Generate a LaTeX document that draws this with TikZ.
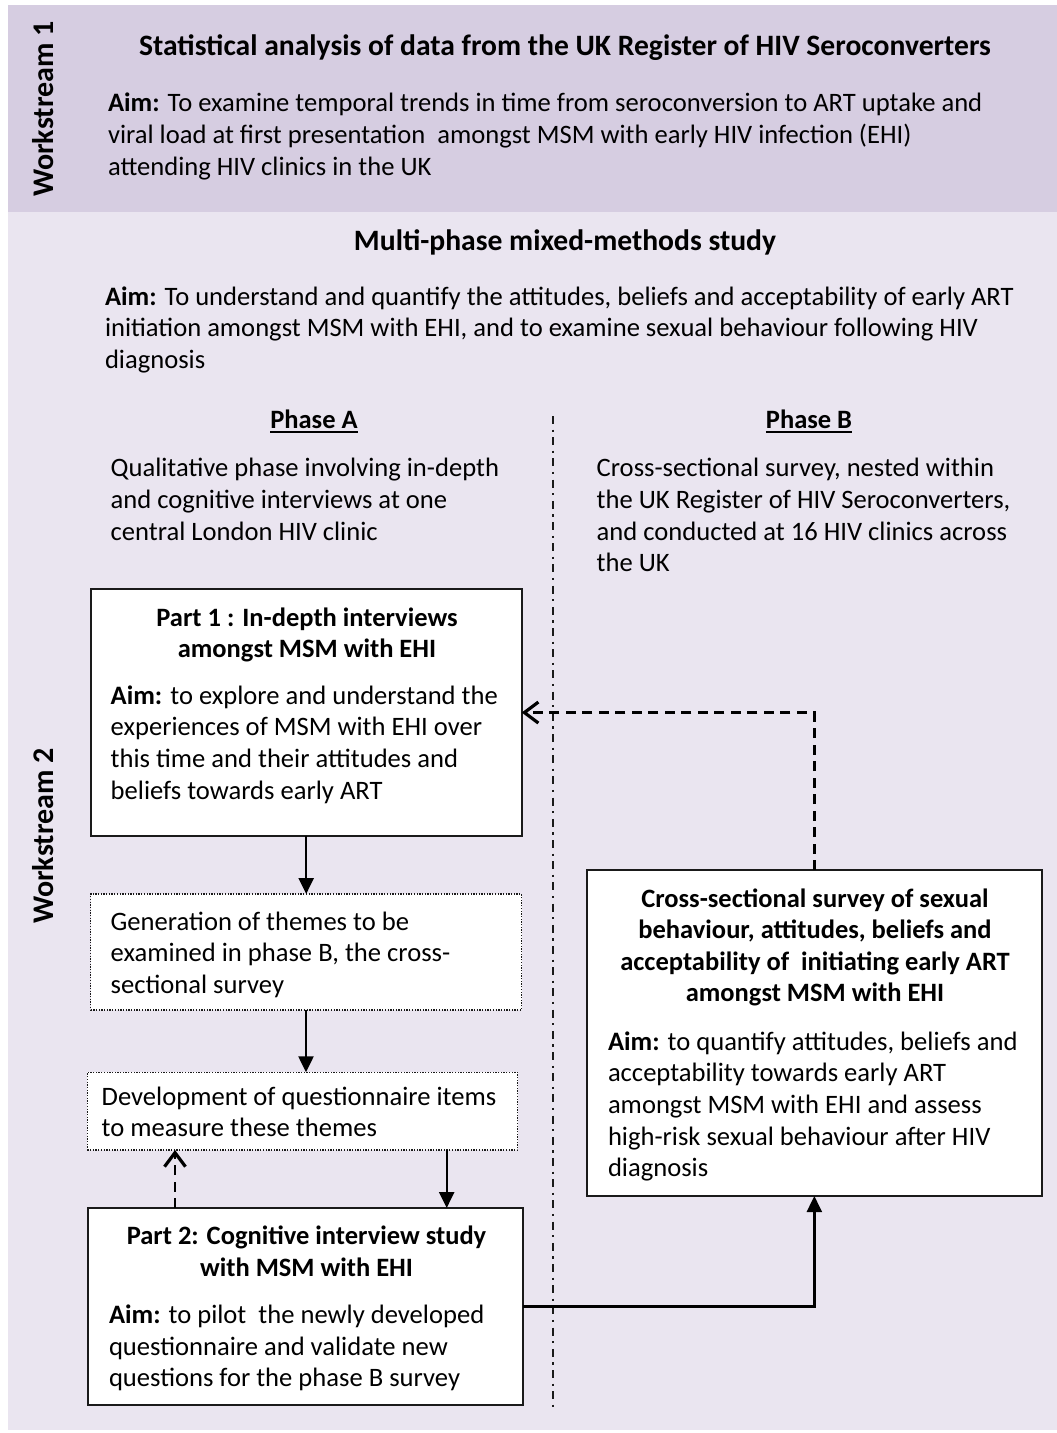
\documentclass[tikz,border=0pt]{standalone}
\usepackage{fontspec}
\setmainfont{Carlito}
\usetikzlibrary{arrows.meta,calc}

\definecolor{bandone}{HTML}{D6CDE1}
\definecolor{bandtwo}{HTML}{EAE5F0}
\definecolor{inkline}{HTML}{1A1A1A}

% underlined heading with a heavier rule
\newcommand{\phasehead}[1]{\setbox0\hbox{#1}\rlap{\rule[-5pt]{\wd0}{1.8pt}}\box0}

% multi-line nodes below are placed by the baseline of their last line
\tikzset{
  body/.style={inner sep=0pt, outer sep=0pt, align=left, anchor=base west,
    font=\fontsize{26.6}{31.7}\selectfont},
  head/.style={inner sep=0pt, outer sep=0pt, align=center, anchor=base,
    font=\fontsize{26.5}{31.4}\selectfont\bfseries},
  bandhead/.style={inner sep=0pt, outer sep=0pt, align=center, anchor=base,
    font=\fontsize{29.6}{34}\selectfont\bfseries},
  wslabel/.style={inner sep=0pt, rotate=90, anchor=base,
    font=\fontsize{30}{34}\selectfont\bfseries},
  solidbox/.style={draw=inkline, line width=2pt, fill=white, inner sep=0pt,
    outer sep=0pt, anchor=north west},
  dotbox/.style={draw=inkline, line width=1.3pt, dash pattern=on 1.3pt off 1.4pt,
    fill=white, inner sep=0pt, outer sep=0pt, anchor=north west},
  flow/.style={draw=black, line width=2.3pt, -{Triangle[length=16pt,width=15pt]}},
  feedback/.style={draw=black, line width=2.3pt, dash pattern=on 10pt off 6.5pt,
    -{Straight Barb[length=14pt,width=21pt,line width=3.2pt]}},
  divider/.style={draw=inkline, line width=2pt,
    dash pattern=on 8pt off 5.5pt on 2.2pt off 5.5pt},
}

\begin{document}
\begin{tikzpicture}[x=1pt,y=-1pt]
  \useasboundingbox (0,0) rectangle (1057,1433);

  % bands
  \fill[bandone] (8,5) rectangle (1057,212);
  \fill[bandtwo] (8,212) rectangle (1057,1430);

  % workstream 1
  \node[wslabel] (ws1) at (53,109) {Workstream 1};
  \node[bandhead] (ws1title) at (565,55) {Statistical analysis of data from the UK Register of HIV Seroconverters};
  \node[body] (ws1aim) at (108,175) {\textbf{Aim:} To examine temporal trends in time from seroconversion to ART uptake and\\
    viral load at first presentation~ amongst MSM with early HIV infection (EHI)\\
    attending HIV clinics in the UK};

  % workstream 2
  \node[wslabel] (ws2) at (53,836) {Workstream 2};
  \node[bandhead] (ws2title) at (565,250) {Multi-phase mixed-methods study};
  \node[body] (ws2aim) at (105,368.4) {\textbf{Aim:} To understand and quantify the attitudes, beliefs and acceptability of early ART\\
    initiation amongst MSM with EHI, and to examine sexual behaviour following HIV\\
    diagnosis};

  % phases
  \node[head] (phaseA) at (314,428) {\phasehead{Phase A}};
  \node[head] (phaseB) at (809,428) {\phasehead{Phase B}};
  \node[body] (phaseAtxt) at (110.7,540.1) {Qualitative phase involving in-depth\\
    and cognitive interviews at one\\
    central London HIV clinic};
  \node[body] (phaseBtxt) at (596.7,571.8) {Cross-sectional survey, nested within\\
    the UK Register of HIV Seroconverters,\\
    and conducted at 16 HIV clinics across\\
    the UK};

  \coordinate (divtop) at (553.3,416);
  \coordinate (divbot) at (553.3,1412);
  \draw[divider] (divtop) -- (divbot);

  % boxes
  \node[solidbox, minimum width=431pt, minimum height=246.5pt] (part1) at (90.7,589.3) {};
  \node[dotbox, minimum width=431pt, minimum height=116pt] (themes) at (90.5,894) {};
  \node[dotbox, minimum width=430.4pt, minimum height=77.7pt] (items) at (87.3,1072.3) {};
  \node[solidbox, minimum width=435pt, minimum height=197pt] (part2) at (88.3,1208) {};
  \node[solidbox, minimum width=454.7pt, minimum height=326pt] (survey) at (587,870) {};

  % box texts
  \node[head] (part1head) at (307,657.5) {Part 1 : In-depth interviews\\amongst MSM with EHI};
  \node[body] (part1aim) at (110.7,799.2) {\textbf{Aim:} to explore and understand the\\
    experiences of MSM with EHI over\\
    this time and their attitudes and\\
    beliefs towards early ART};

  \node[body] (themestxt) at (110.7,993.4) {Generation of themes to be\\
    examined in phase B, the cross-\\
    sectional survey};

  \node[body] (itemstxt) at (101.7,1136.7) {Development of questionnaire items\\
    to measure these themes};

  \node[head] (part2head) at (306.5,1276.3) {Part 2: Cognitive interview study\\with MSM with EHI};
  \node[body] (part2aim) at (109,1386.7) {\textbf{Aim:} to pilot~ the newly developed\\
    questionnaire and validate new\\
    questions for the phase B survey};

  \node[head] (surveyhead) at (815,1001.7) {Cross-sectional survey of sexual\\
    behaviour, attitudes, beliefs and\\
    acceptability of~ initiating early ART\\
    amongst MSM with EHI};
  \node[body] (surveyaim) at (608,1176.8) {\textbf{Aim:} to quantify attitudes, beliefs and\\
    acceptability towards early ART\\
    amongst MSM with EHI and assess\\
    high-risk sexual behaviour after HIV\\
    diagnosis};

  % connectors
  \draw[flow] (part1.south) -- (part1.south |- themes.north);
  \draw[flow] (themes.south) -- (themes.south |- items.north);
  \coordinate (downx) at (446.7,1150);
  \coordinate (upx) at (175,1208);
  \draw[flow] (items.south -| downx) -- (part2.north -| downx);
  \draw[feedback] (part2.north -| upx) -- (items.south -| upx);
  \draw[flow] (part2.east) -| (survey.south);
  \draw[feedback] (survey.north) |- (part1.east);
\end{tikzpicture}
\end{document}
